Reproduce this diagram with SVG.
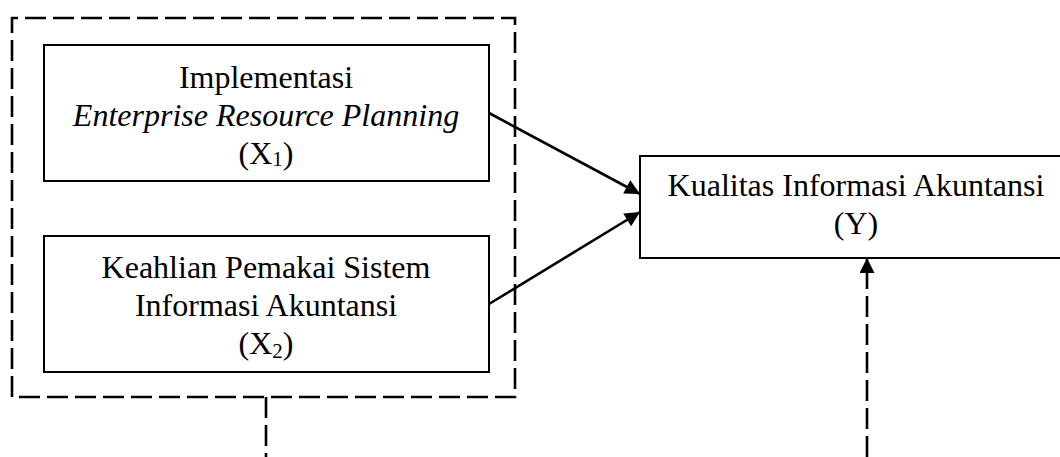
<svg xmlns="http://www.w3.org/2000/svg" width="1060" height="457" viewBox="0 0 1060 457">
  <defs>
    <style>
      .box { fill: #ffffff; stroke: #000000; stroke-width: 2; }
      .dash { fill: none; stroke: #000000; stroke-width: 2.6; stroke-dasharray: 21 7; }
      .line { fill: none; stroke: #000000; stroke-width: 2.6; }
      .t { font-family: "Liberation Serif", "Times New Roman", serif; font-size: 32px; fill: #000000; text-anchor: middle; }
      .it { font-style: italic; }
      .sub { font-size: 21px; }
    </style>
    <marker id="arrow" viewBox="0 0 10 10" refX="10" refY="5" markerWidth="18" markerHeight="15" markerUnits="userSpaceOnUse" orient="auto">
      <path d="M0,0 L10,5 L0,10 Z" fill="#000000"/>
    </marker>
  </defs>
  <rect width="1060" height="457" fill="#ffffff"/>

  <g id="group-x">
    <path class="dash" d="M12,397 L12,18 L515,18 L515,397 Z"/>
  </g>

  <g id="node-x1">
    <rect class="box" x="44" y="45" width="445" height="136"/>
    <text class="t" x="266" y="88">Implementasi</text>
    <text class="t it" x="266" y="126">Enterprise Resource Planning</text>
    <text class="t" x="266" y="164">(X<tspan class="sub" dy="2">1</tspan><tspan dy="-2">)</tspan></text>
  </g>

  <g id="node-x2">
    <rect class="box" x="44" y="236" width="445" height="136"/>
    <text class="t" x="266" y="278">Keahlian Pemakai Sistem</text>
    <text class="t" x="266" y="316">Informasi Akuntansi</text>
    <text class="t" x="266" y="354">(X<tspan class="sub" dy="4">2</tspan><tspan dy="-4">)</tspan></text>
  </g>

  <g id="node-y">
    <rect class="box" x="640" y="156" width="430" height="102"/>
    <text class="t" x="856" y="196">Kualitas Informasi Akuntansi</text>
    <text class="t" x="856" y="234">(Y)</text>
  </g>

  <g id="connectors">
    <line class="line" x1="489" y1="113" x2="640" y2="194" marker-end="url(#arrow)"/>
    <line class="line" x1="489" y1="304" x2="640" y2="212" marker-end="url(#arrow)"/>
    <line class="dash" x1="266" y1="397" x2="266" y2="457"/>
    <line class="dash" x1="867" y1="457" x2="867" y2="258" marker-end="url(#arrow)"/>
  </g>
</svg>
